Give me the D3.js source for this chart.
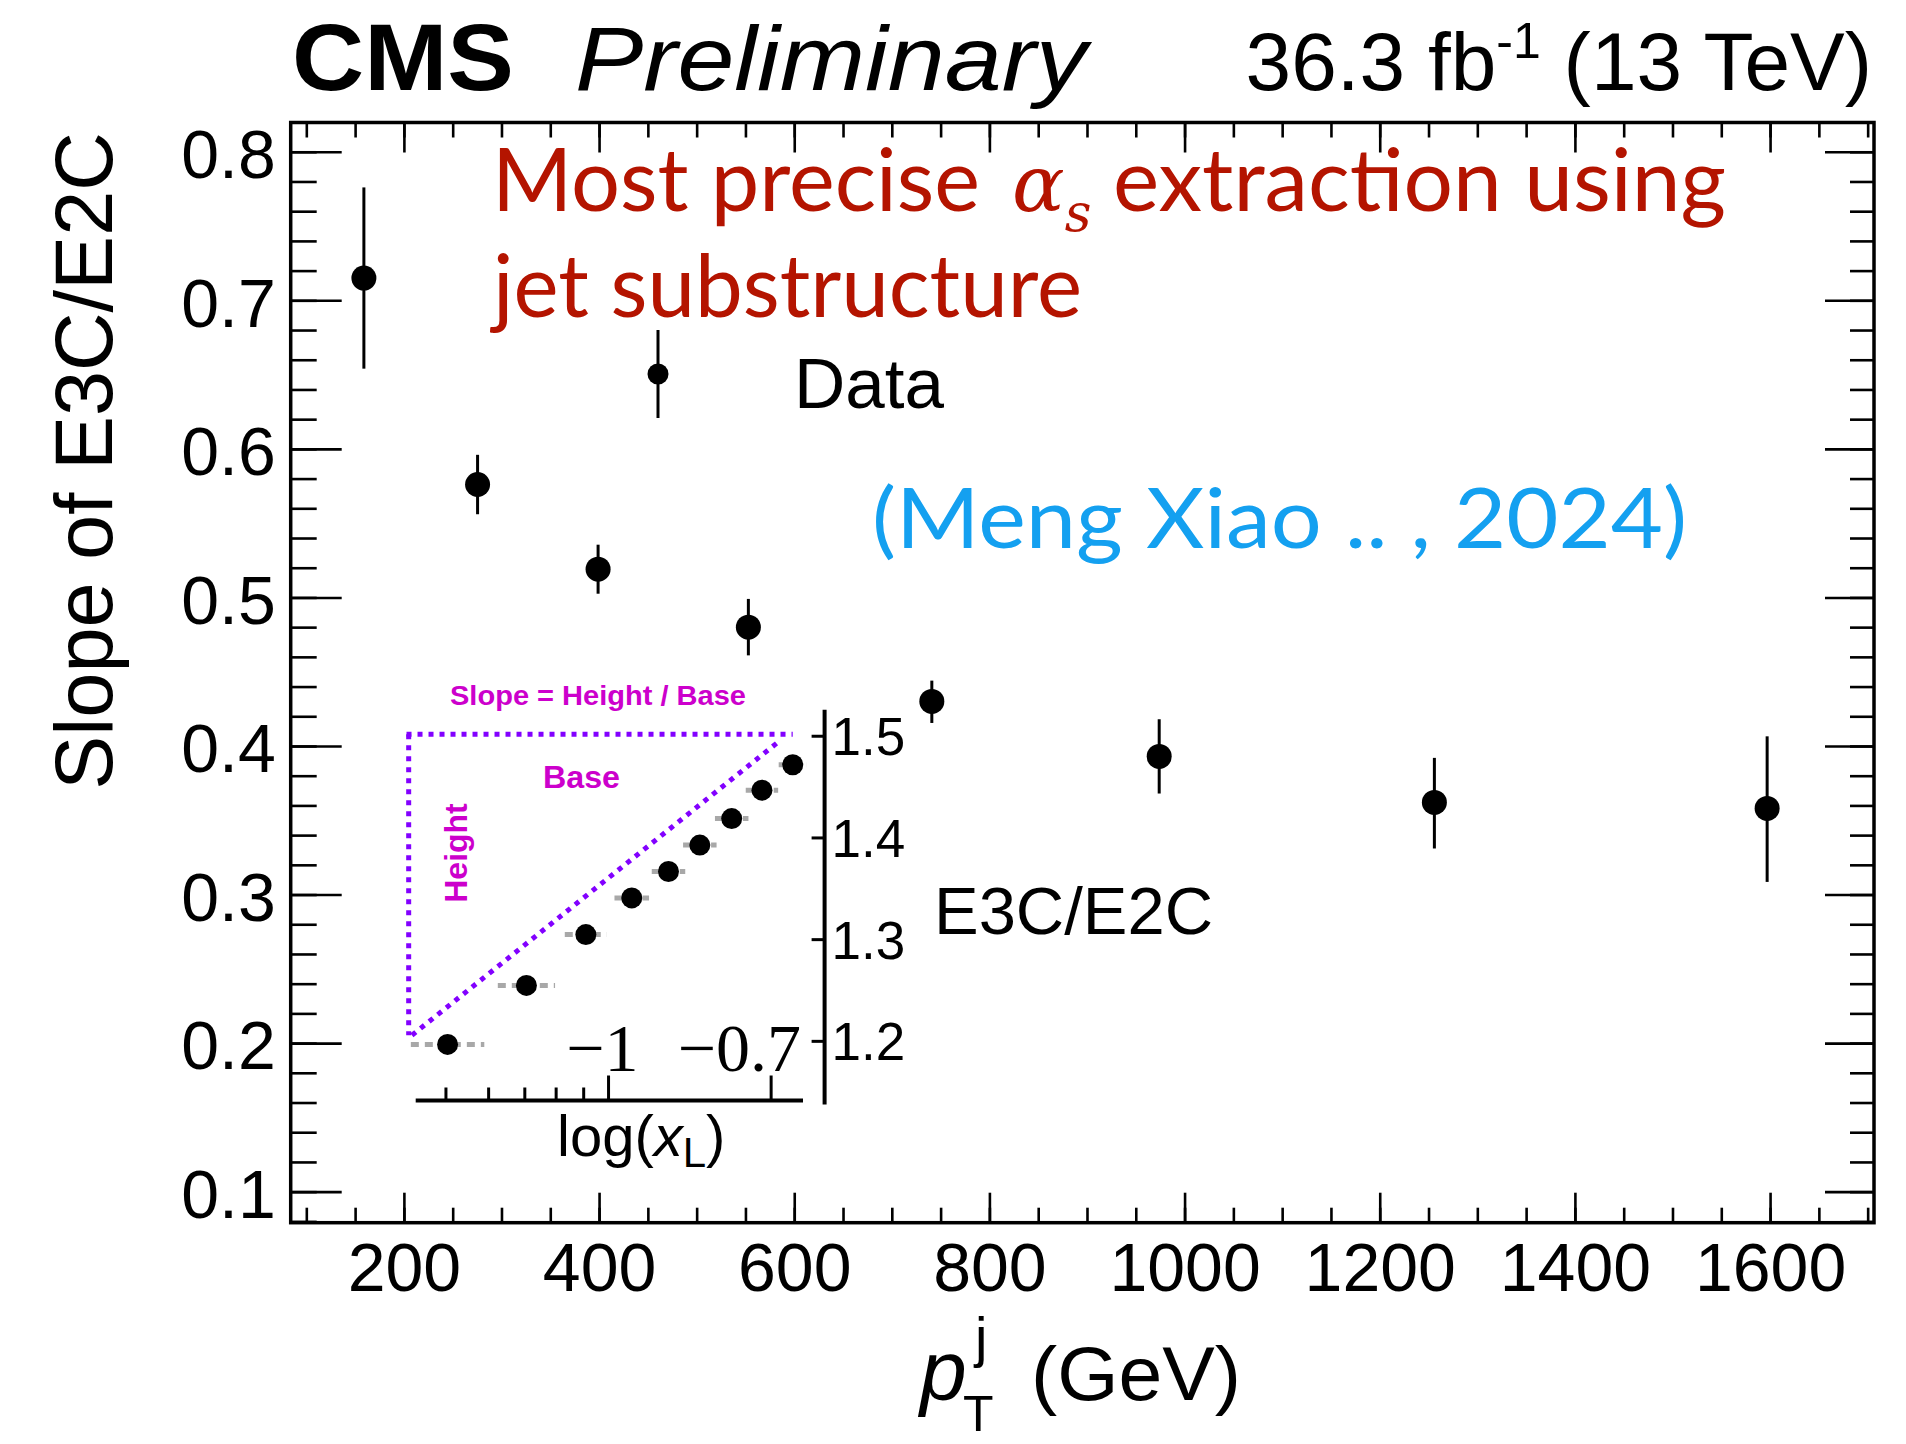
<!DOCTYPE html>
<html>
<head>
<meta charset="utf-8">
<script src="https://cdn.jsdelivr.net/npm/d3@7"></script>
<style>
body { margin: 0; background: #fff; }
</style>
</head>
<body>
<svg id="chart" width="1906" height="1444" font-family="'Liberation Sans', Arial, sans-serif"></svg>
<script>
// main graph: slope of E3C/E2C in bins of jet pT
const ptCenters    = [159, 275.5, 399, 553, 741, 974, 1256, 1597];
const slopeValues  = [0.715, 0.576, 0.519, 0.480, 0.430, 0.393, 0.362, 0.358];
const slopeErrUp   = [0.061, 0.020, 0.0165, 0.019, 0.014, 0.025, 0.030, 0.0485];
const slopeErrDown = [0.061, 0.020, 0.0165, 0.019, 0.0145, 0.025, 0.031, 0.0495];

const xMajorTicks = [200, 400, 600, 800, 1000, 1200, 1400, 1600];
const xTickLabels = ["200", "400", "600", "800", "1000", "1200", "1400", "1600"];
const yMajorTicks = [0.1, 0.2, 0.3, 0.4, 0.5, 0.6, 0.7, 0.8];
const yTickLabels = ["0.1", "0.2", "0.3", "0.4", "0.5", "0.6", "0.7", "0.8"];

// inset: E3C/E2C vs log(xL) for one bin
const insetLogXL    = [-1.298, -1.152, -1.042, -0.957, -0.889, -0.831, -0.772, -0.716, -0.659];
const insetRatio    = [1.197, 1.255, 1.305, 1.341, 1.367, 1.393, 1.419, 1.447, 1.472];
const insetLogXLErr = [0.068, 0.053, 0.039, 0.032, 0.031, 0.031, 0.031, 0.030, 0.026];
const insetXMajorTicks  = [-1, -0.699];
const insetXMajorLabels = ["\u22121", "\u22120.7"];
const insetXMinorTicks  = [-1.301, -1.222, -1.155, -1.097, -1.046];
const insetYTicks       = [1.2, 1.3, 1.4, 1.5];
const insetYTickLabels  = ["1.2", "1.3", "1.4", "1.5"];

// dotted "slope" triangle, in inset units
const triX1 = [-1.374, -1.370, -1.364];
const triY1 = [1.502, 1.502, 1.206];
const triX2 = [-0.659, -1.370, -0.689];
const triY2 = [1.502, 1.206, 1.493];

const svg = d3.select("#chart");
svg.append("rect").attr("width", 1906).attr("height", 1444).attr("fill", "#fff");

const frame = {left: 290.7, right: 1874, top: 122.5, bottom: 1222.7};

const x = d3.scaleLinear().domain([84, 1706.5]).range([frame.left, frame.right]);
const y = d3.scaleLinear().domain([0.0791, 0.8197]).range([frame.bottom, frame.top]);

let xMinor = d3.range(100, 1701, 50);
let yMinor = d3.range(0.08, 0.821, 0.02).filter(function (d) { return d > 0.0795 && d < 0.819; });

function styleAxis(g, fontSize) {
    g.select(".domain").remove();
    g.selectAll("line").attr("stroke", "#000").attr("stroke-width", 2.6);
    g.attr("font-family", "'Liberation Sans', Arial, sans-serif").attr("font-size", fontSize);
    g.selectAll("text").attr("fill", "#000");
}

// bottom / top
svg.append("g").attr("transform", "translate(0," + frame.bottom + ")")
    .call(d3.axisBottom(x).tickValues(xMinor).tickSizeInner(-15).tickSizeOuter(0).tickFormat(""))
    .call(styleAxis, 68);
svg.append("g").attr("transform", "translate(0," + frame.bottom + ")")
    .call(d3.axisBottom(x).tickValues(xMajorTicks).tickSizeInner(-30).tickSizeOuter(0).tickPadding(20)
        .tickFormat(function (d, i) { return xTickLabels[i]; }))
    .call(styleAxis, 68);
svg.append("g").attr("transform", "translate(0," + frame.top + ")")
    .call(d3.axisTop(x).tickValues(xMinor).tickSizeInner(-15).tickSizeOuter(0).tickFormat(""))
    .call(styleAxis, 68);
svg.append("g").attr("transform", "translate(0," + frame.top + ")")
    .call(d3.axisTop(x).tickValues(xMajorTicks).tickSizeInner(-30).tickSizeOuter(0).tickFormat(""))
    .call(styleAxis, 68);

// left / right
svg.append("g").attr("transform", "translate(" + frame.left + ",0)")
    .call(d3.axisLeft(y).tickValues(yMinor).tickSizeInner(-26).tickSizeOuter(0).tickFormat(""))
    .call(styleAxis, 68);
svg.append("g").attr("transform", "translate(" + frame.left + ",0)")
    .call(d3.axisLeft(y).tickValues(yMajorTicks).tickSizeInner(-51).tickSizeOuter(0).tickPadding(15)
        .tickFormat(function (d, i) { return yTickLabels[i]; }))
    .call(styleAxis, 68)
    .selectAll("text").attr("dy", "0.38em");
svg.append("g").attr("transform", "translate(" + frame.right + ",0)")
    .call(d3.axisRight(y).tickValues(yMinor).tickSizeInner(-24).tickSizeOuter(0).tickFormat(""))
    .call(styleAxis, 68);
svg.append("g").attr("transform", "translate(" + frame.right + ",0)")
    .call(d3.axisRight(y).tickValues(yMajorTicks).tickSizeInner(-49).tickSizeOuter(0).tickFormat(""))
    .call(styleAxis, 68);

svg.append("rect")
    .attr("x", frame.left).attr("y", frame.top)
    .attr("width", frame.right - frame.left).attr("height", frame.bottom - frame.top)
    .attr("fill", "none").attr("stroke", "#000").attr("stroke-width", 3.5);

// data points
let points = ptCenters.map(function (pt, i) {
    return {pt: pt, v: slopeValues[i], up: slopeErrUp[i], dn: slopeErrDown[i]};
});
svg.selectAll(".errbar").data(points).enter().append("line")
    .attr("class", "errbar")
    .attr("x1", function (d) { return x(d.pt); })
    .attr("x2", function (d) { return x(d.pt); })
    .attr("y1", function (d) { return y(d.v + d.up); })
    .attr("y2", function (d) { return y(d.v - d.dn); })
    .attr("stroke", "#000").attr("stroke-width", 3);
svg.selectAll(".pt").data(points).enter().append("circle")
    .attr("class", "pt")
    .attr("cx", function (d) { return x(d.pt); })
    .attr("cy", function (d) { return y(d.v); })
    .attr("r", 12.5).attr("fill", "#000");

// legend
let leg = svg.append("g").attr("transform", "translate(658,374)");
leg.append("line").attr("y1", -44).attr("y2", 44).attr("stroke", "#000").attr("stroke-width", 3);
leg.append("circle").attr("r", 10.5).attr("fill", "#000");
svg.append("text").attr("x", 794).attr("y", 408).attr("font-size", 71).text("Data");

// header
svg.append("text").attr("x", 292).attr("y", 90)
    .attr("font-size", 94).attr("font-weight", "bold")
    .attr("textLength", 222).attr("lengthAdjust", "spacingAndGlyphs").text("CMS");
svg.append("text").attr("x", 575).attr("y", 90)
    .attr("font-size", 90).attr("font-style", "italic")
    .attr("textLength", 512).attr("lengthAdjust", "spacingAndGlyphs").text("Preliminary");
let lumi = svg.append("text").attr("x", 1872).attr("y", 90)
    .attr("font-size", 82).attr("text-anchor", "end");
lumi.append("tspan").text("36.3 fb");
lumi.append("tspan").attr("font-size", 50).attr("dy", -32).text("-1");
lumi.append("tspan").attr("dy", 32).text(" (13 TeV)");

// axis titles
svg.append("text")
    .attr("transform", "translate(111.7,461) rotate(-90)")
    .attr("text-anchor", "middle").attr("font-size", 81)
    .text("Slope of E3C/E2C");
svg.append("text").attr("x", 920).attr("y", 1400).attr("font-size", 84).attr("font-style", "italic").text("p");
svg.append("text").attr("x", 975).attr("y", 1356).attr("font-size", 56).text("j");
svg.append("text").attr("x", 963).attr("y", 1431).attr("font-size", 50).text("T");
svg.append("text").attr("x", 1031).attr("y", 1400).attr("font-size", 76)
    .attr("textLength", 210).attr("lengthAdjust", "spacingAndGlyphs").text("(GeV)");

// annotations
const red = "#b41400", blue = "#14a0f0";
const humanist = "Lato, 'Open Sans', sans-serif";
svg.append("text").attr("x", 492).attr("y", 210.7).attr("font-family", humanist)
    .attr("font-size", 87).attr("fill", red)
    .attr("textLength", 488).attr("lengthAdjust", "spacingAndGlyphs").text("Most precise");
let alpha = svg.append("text").attr("x", 1012).attr("y", 210.7)
    .attr("font-family", "'DejaVu Serif', serif").attr("font-style", "italic").attr("fill", red);
alpha.append("tspan").attr("font-size", 78).text("\u03b1");
alpha.append("tspan").attr("font-size", 52).attr("dy", 20).text("s");
svg.append("text").attr("x", 1113).attr("y", 210.7).attr("font-family", humanist)
    .attr("font-size", 87).attr("fill", red)
    .attr("textLength", 613).attr("lengthAdjust", "spacingAndGlyphs").text("extraction using");
svg.append("text").attr("x", 493).attr("y", 316.7).attr("font-family", humanist)
    .attr("font-size", 87).attr("fill", red)
    .attr("textLength", 589).attr("lengthAdjust", "spacingAndGlyphs").text("jet substructure");
svg.append("text").attr("x", 872).attr("y", 548).attr("font-family", humanist)
    .attr("font-size", 84).attr("fill", blue)
    .attr("textLength", 815).attr("lengthAdjust", "spacingAndGlyphs").text("(Meng Xiao .. , 2024)");

// ---- inset ----
const ix = d3.scaleLinear().domain([-1.357, -0.64]).range([415.7, 803]);
const iy = d3.scaleLinear().domain([1.138, 1.526]).range([1104.4, 709.8]);
const axisY = 1100.5, axisX = 824.6;
let inset = svg.append("g");

inset.append("line").attr("x1", ix.range()[0]).attr("x2", ix.range()[1])
    .attr("y1", axisY).attr("y2", axisY).attr("stroke", "#000").attr("stroke-width", 4);
inset.selectAll(".iminor").data(insetXMinorTicks).enter().append("line")
    .attr("x1", function (d) { return ix(d); }).attr("x2", function (d) { return ix(d); })
    .attr("y1", axisY).attr("y2", axisY - 13).attr("stroke", "#000").attr("stroke-width", 3);
inset.selectAll(".imajor").data(insetXMajorTicks).enter().append("line")
    .attr("x1", function (d) { return ix(d); }).attr("x2", function (d) { return ix(d); })
    .attr("y1", axisY).attr("y2", axisY - 25).attr("stroke", "#000").attr("stroke-width", 3);
inset.selectAll(".ixlab").data(insetXMajorTicks).enter().append("text")
    .attr("x", function (d) { return ix(d) + 30; }).attr("y", 1071)
    .attr("text-anchor", "end").attr("font-family", "'Liberation Serif', 'DejaVu Serif', serif")
    .attr("font-size", 68)
    .text(function (d, i) { return insetXMajorLabels[i]; });

inset.append("line").attr("x1", axisX).attr("x2", axisX)
    .attr("y1", iy.range()[0]).attr("y2", iy.range()[1]).attr("stroke", "#000").attr("stroke-width", 4);
inset.selectAll(".iyt").data(insetYTicks).enter().append("line")
    .attr("x1", axisX - 13).attr("x2", axisX)
    .attr("y1", function (d) { return iy(d); }).attr("y2", function (d) { return iy(d); })
    .attr("stroke", "#000").attr("stroke-width", 3);
inset.selectAll(".iylab").data(insetYTicks).enter().append("text")
    .attr("x", axisX + 7).attr("y", function (d) { return iy(d) + 19; })
    .attr("font-size", 53)
    .text(function (d, i) { return insetYTickLabels[i]; });

let ilab = inset.append("text").attr("x", 557).attr("y", 1156).attr("font-size", 58);
ilab.append("tspan").text("log(");
ilab.append("tspan").attr("font-style", "italic").text("x");
ilab.append("tspan").attr("font-size", 42).attr("dy", 11).text("L");
ilab.append("tspan").attr("dy", -11).text(")");
svg.append("text").attr("x", 934).attr("y", 934).attr("font-size", 66)
    .attr("textLength", 279).attr("lengthAdjust", "spacingAndGlyphs").text("E3C/E2C");

let ipts = insetLogXL.map(function (v, i) { return {x: v, y: insetRatio[i], ex: insetLogXLErr[i]}; });
inset.selectAll(".iex").data(ipts).enter().append("line")
    .attr("x1", function (d) { return ix(d.x - d.ex); })
    .attr("x2", function (d) { return ix(d.x + d.ex); })
    .attr("y1", function (d) { return iy(d.y); })
    .attr("y2", function (d) { return iy(d.y); })
    .attr("stroke", "#a8a8a8").attr("stroke-width", 5).attr("stroke-dasharray", "8,6");

inset.selectAll(".tri").data(triX1).enter().append("line")
    .attr("x1", function (d) { return ix(d); })
    .attr("y1", function (d, i) { return iy(triY1[i]); })
    .attr("x2", function (d, i) { return ix(triX2[i]); })
    .attr("y2", function (d, i) { return iy(triY2[i]); })
    .attr("stroke", "#8200ff").attr("stroke-width", 5).attr("stroke-dasharray", "5,6");

inset.selectAll(".ipt").data(ipts).enter().append("circle")
    .attr("cx", function (d) { return ix(d.x); })
    .attr("cy", function (d) { return iy(d.y); })
    .attr("r", 10.5).attr("fill", "#000");

const magenta = "#cc00cc";
inset.append("text").attr("x", 450).attr("y", 705).attr("font-size", 28).attr("font-weight", "bold")
    .attr("fill", magenta).attr("textLength", 296).attr("lengthAdjust", "spacingAndGlyphs")
    .text("Slope = Height / Base");
inset.append("text").attr("x", 543).attr("y", 788).attr("font-size", 31).attr("font-weight", "bold")
    .attr("fill", magenta).attr("textLength", 77).attr("lengthAdjust", "spacingAndGlyphs")
    .text("Base");
inset.append("text").attr("transform", "translate(467,853) rotate(-90)")
    .attr("text-anchor", "middle").attr("font-size", 32).attr("font-weight", "bold")
    .attr("fill", magenta).text("Height");
</script>
</body>
</html>
